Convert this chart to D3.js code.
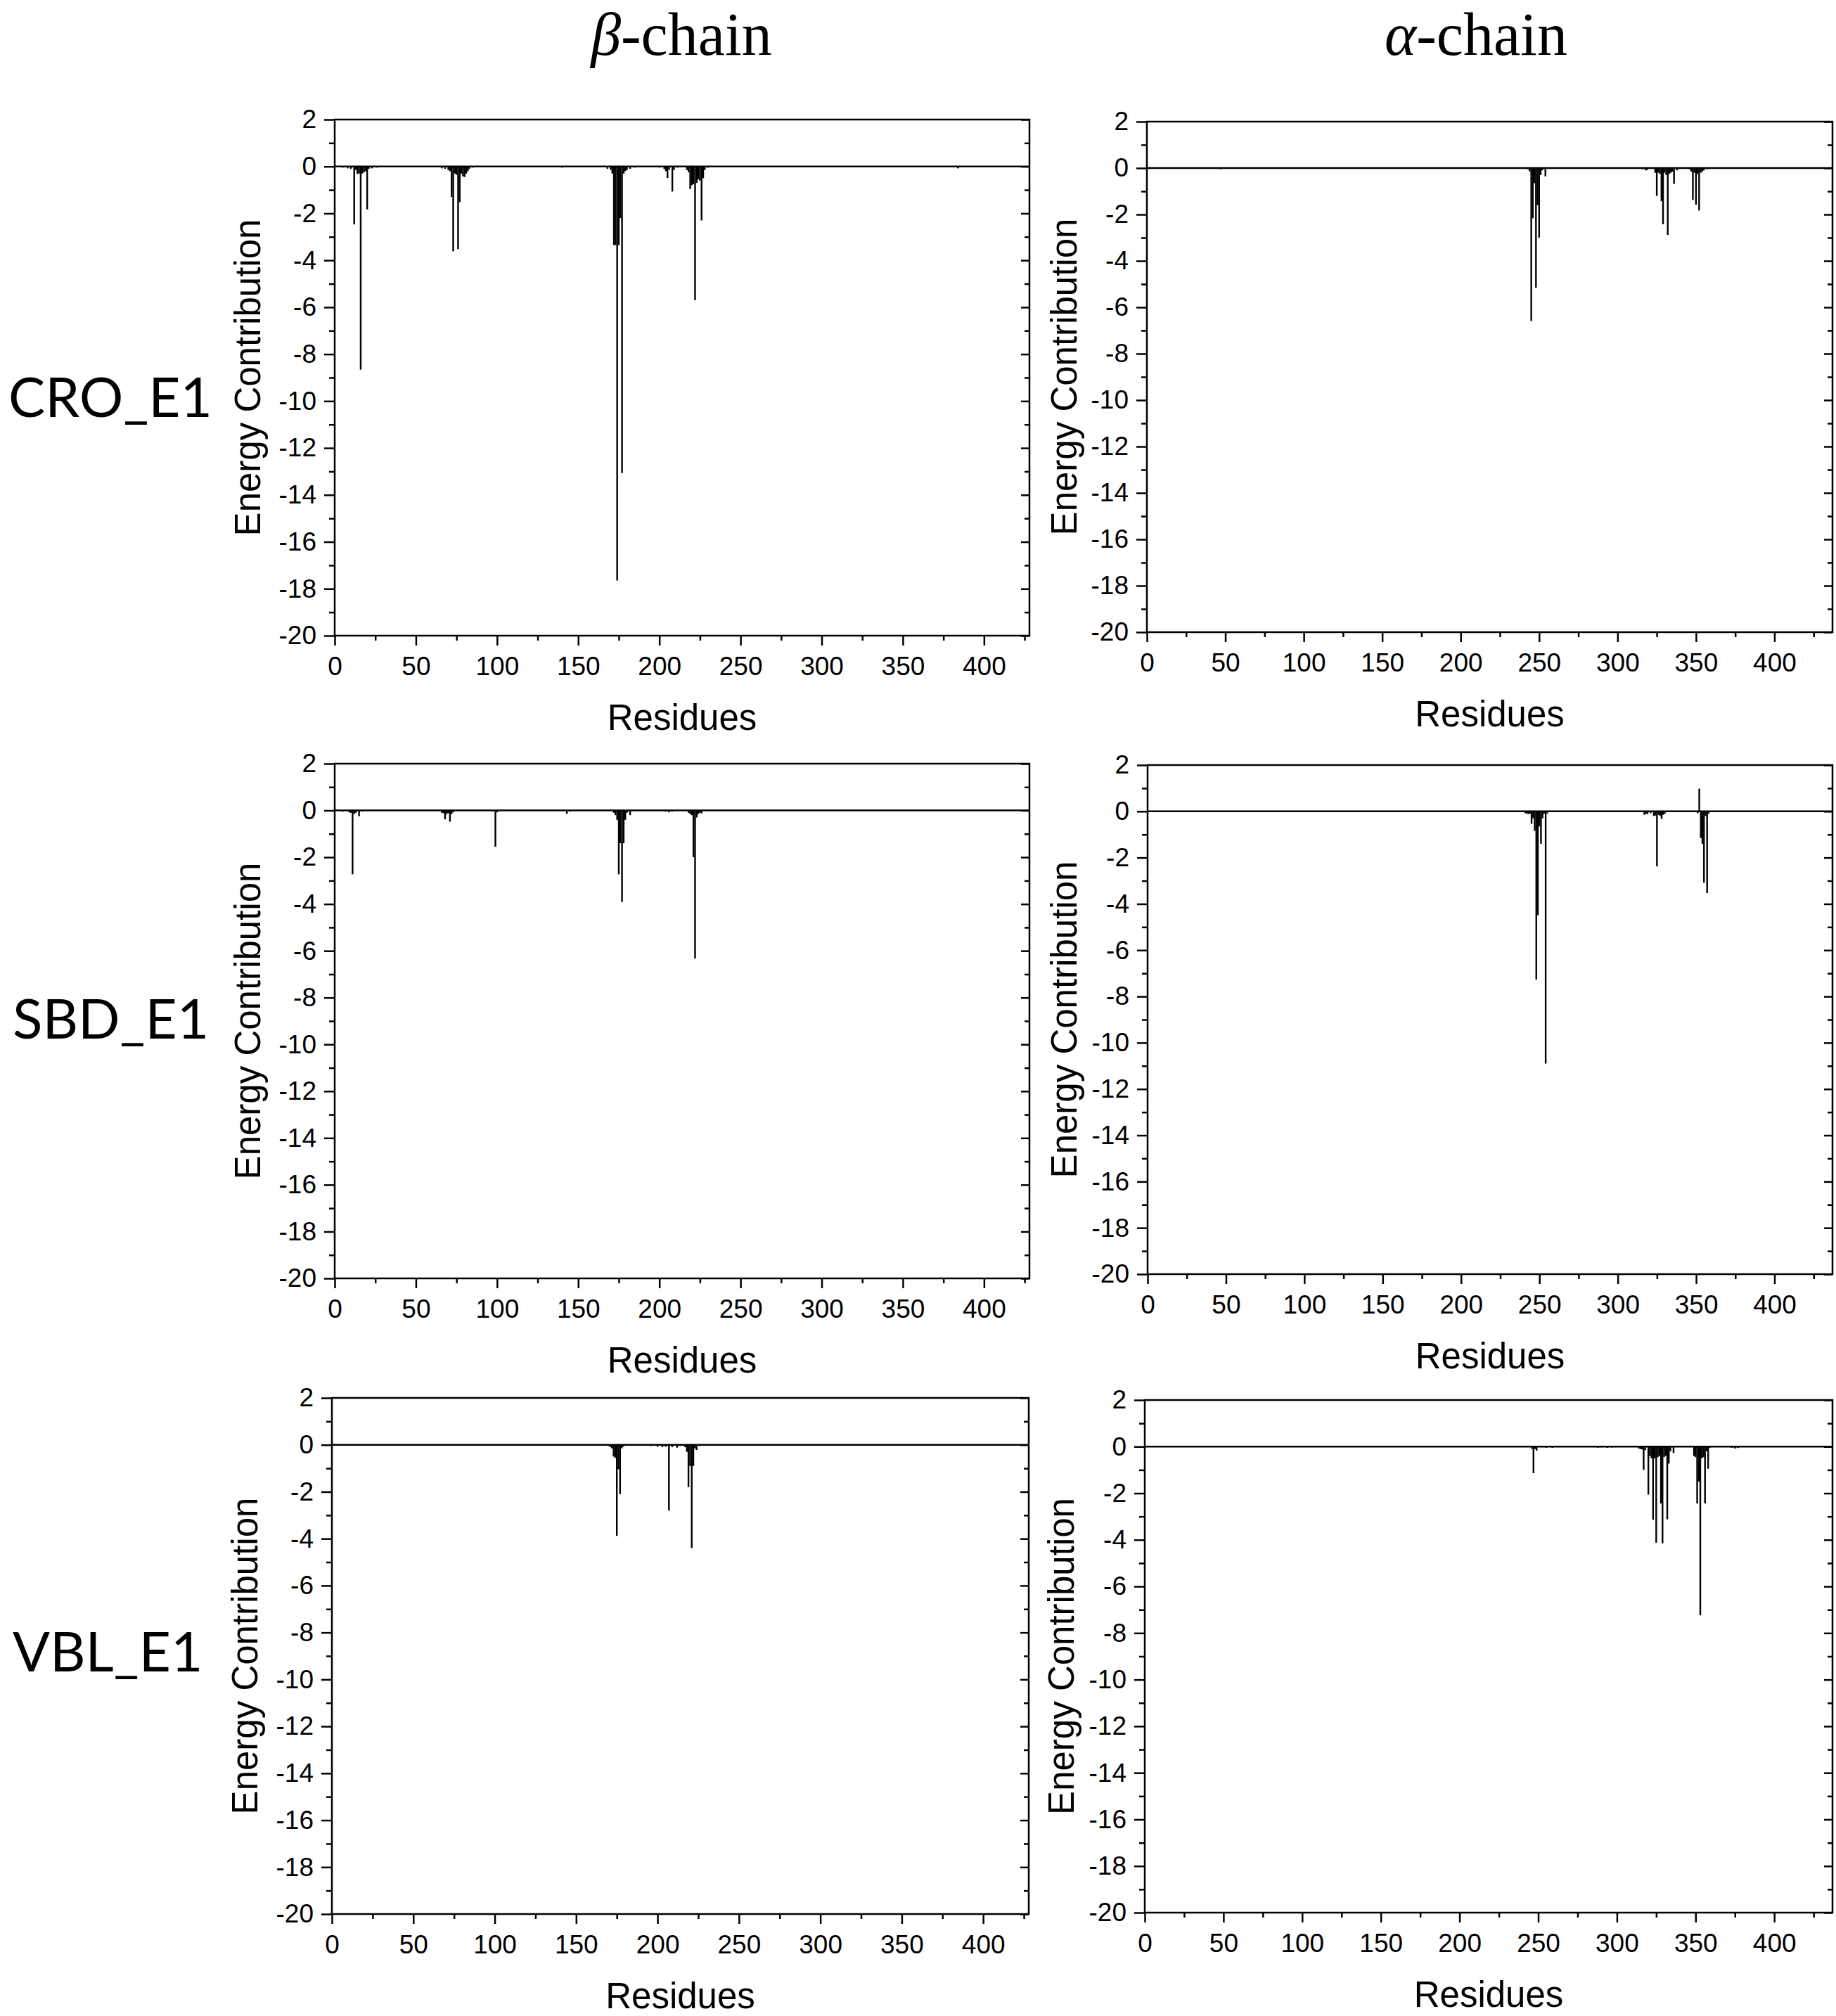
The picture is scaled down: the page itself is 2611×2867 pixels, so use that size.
<!DOCTYPE html>
<html><head><meta charset="utf-8">
<script src="https://cdn.jsdelivr.net/npm/d3@7"></script>
<style>html,body{margin:0;padding:0;background:#fff;} svg{display:block}</style>
</head><body>
<script>
// ---------------- data ----------------
const columnTitles = [{sym: "β", rest: "-chain"}, {sym: "α", rest: "-chain"}];
const rowLabels = ["CRO_E1", "SBD_E1", "VBL_E1"];
const xAxisTitle = "Residues";
const yAxisTitle = "Energy Contribution";
const yMajorTicks = [2, 0, -2, -4, -6, -8, -10, -12, -14, -16, -18, -20];
const yMinorTicks = [1, -1, -3, -5, -7, -9, -11, -13, -15, -17, -19];
const xMajorTicks = [0, 50, 100, 150, 200, 250, 300, 350, 400];
const xMinorTicks = [25, 75, 125, 175, 225, 275, 325, 375, 425];

// [residue, energy contribution]
const croBeta = [
  [5,-0.05],[8,-0.08],[10,-0.1],[12,-2.47],[13,-0.15],[14,-0.32],[15,-0.3],[16,-8.66],[17,-0.3],[18,-0.25],[19,-0.2],[20,-1.83],[21,-0.1],[23,-0.08],[26,-0.05],
  [66,-0.08],[68,-0.1],[70,-0.15],[71,-0.2],[72,-1.3],[73,-3.62],[74,-0.3],[75,-0.35],[76,-3.52],[77,-1.52],[78,-0.3],[79,-0.42],[80,-0.45],[81,-0.3],[82,-0.2],[83,-0.1],[85,-0.05],
  [100,-0.03],[140,-0.05],[150,-0.03],
  [168,-0.1],[170,-0.15],[171,-0.3],[172,-3.35],[173,-3.35],[174,-17.65],[175,-3.35],[176,-2.2],[177,-13.07],[178,-0.3],[179,-0.2],[180,-0.15],[182,-0.1],[185,-0.05],
  [200,-0.05],[203,-0.1],[204,-0.2],[205,-0.49],[206,-0.15],[208,-1.07],[209,-0.15],[211,-0.05],
  [217,-0.15],[218,-0.25],[219,-0.96],[220,-0.8],[221,-0.75],[222,-5.7],[223,-0.7],[224,-0.55],[225,-0.6],[226,-2.3],[227,-0.5],[228,-0.15],[230,-0.05],
  [384,-0.08]
];
const croAlpha = [
  [47,-0.05],
  [243,-0.05],[244,-0.15],[245,-6.59],[246,-2.16],[247,-0.65],[248,-5.16],[249,-1.6],[250,-3.0],[251,-0.3],[252,-0.1],[254,-0.36],
  [316,-0.05],[318,-0.1],[319,-0.08],[324,-0.2],[325,-1.2],[326,-0.2],[327,-0.25],[328,-1.43],[329,-2.42],[330,-0.2],[331,-0.3],[332,-2.88],[333,-0.25],[334,-0.2],[335,-0.15],[336,-0.68],[338,-0.1],
  [346,-0.05],[347,-0.15],[348,-1.37],[349,-0.2],[350,-1.58],[351,-0.25],[352,-1.83],[353,-0.2],[354,-0.15],[355,-0.1],[357,-0.05]
];
const sbdBeta = [
  [5,-0.05],[9,-0.08],[10,-0.1],[11,-2.73],[12,-0.15],[13,-0.1],[15,-0.25],[17,-0.05],
  [66,-0.1],[67,-0.12],[68,-0.38],[69,-0.15],[70,-0.12],[71,-0.48],[72,-0.15],[73,-0.08],
  [97,-0.05],[99,-1.55],[100,-0.08],
  [143,-0.15],[145,-0.05],
  [172,-0.1],[173,-0.2],[174,-0.4],[175,-2.73],[176,-1.4],[177,-3.91],[178,-1.4],[179,-0.4],[180,-0.1],[182,-0.2],
  [204,-0.05],[206,-0.08],[208,-0.05],
  [218,-0.1],[219,-0.15],[220,-0.2],[221,-2.0],[222,-6.33],[223,-0.3],[224,-0.15],[225,-0.1],[226,-0.12]
];
const sbdAlpha = [
  [241,-0.08],[242,-0.1],[243,-0.12],[244,-0.1],[245,-0.54],[246,-0.3],[247,-0.84],[248,-7.27],[249,-4.49],[250,-0.65],[251,-1.4],[252,-0.3],[253,-0.1],[254,-10.9],[255,-0.1],
  [317,-0.15],[318,-0.1],[319,-0.12],[321,-0.08],[323,-0.2],[324,-0.18],[325,-2.38],[326,-0.15],[327,-0.2],[328,-0.33],[329,-0.15],[330,-0.1],
  [351,-0.08],[352,0.98],[353,-1.15],[354,-1.4],[355,-3.09],[356,-0.2],[357,-3.53],[358,-0.1]
];
const vblBeta = [
  [170,-0.05],[171,-0.1],[172,-0.15],[173,-0.5],[174,-0.55],[175,-3.88],[176,-1.04],[177,-2.1],[178,-0.15],[179,-0.08],
  [196,-0.05],[200,-0.08],[203,-0.1],[205,-0.08],[207,-2.8],[209,-0.1],[212,-0.12],[214,-0.05],
  [217,-0.1],[218,-0.3],[219,-1.8],[220,-0.9],[221,-4.4],[222,-0.9],[223,-0.15],[224,-0.22],[226,-0.05]
];
const vblAlpha = [
  [246,-0.1],[247,-1.14],[248,-0.1],[249,-0.17],[252,-0.03],[255,-0.05],[259,-0.05],
  [288,-0.05],[290,-0.03],[294,-0.05],[297,-0.04],
  [314,-0.08],[315,-0.1],[316,-0.12],[317,-1.0],[318,-0.15],[320,-2.06],[321,-0.4],[322,-0.5],[323,-3.14],[324,-0.5],[325,-4.12],[326,-0.45],[327,-0.4],[328,-2.44],[329,-4.15],[330,-0.45],[331,-0.4],[332,-3.12],[333,-0.73],[334,-0.2],[336,-0.28],
  [349,-0.4],[350,-0.45],[351,-2.44],[352,-1.5],[353,-7.24],[354,-0.5],[355,-0.45],[356,-2.44],[357,-0.2],[358,-0.95],[359,-0.05],
  [373,-0.05],[375,-0.08],[377,-0.06]
];

// ---------------- layout ----------------
const W = 2611, H = 2867;
const panels = [
  {data: croBeta,  x0: 476,  x1: 1464, y0: 170,  y1: 904,  xMax: 428, labX: 370},
  {data: croAlpha, x0: 1631, x1: 2606, y0: 173,  y1: 899,  xMax: 437, labX: 1531},
  {data: sbdBeta,  x0: 476,  x1: 1464, y0: 1086, y1: 1818, xMax: 428, labX: 370},
  {data: sbdAlpha, x0: 1632, x1: 2606, y0: 1088, y1: 1812, xMax: 437, labX: 1531},
  {data: vblBeta,  x0: 472,  x1: 1463, y0: 1988, y1: 2722, xMax: 428, labX: 366},
  {data: vblAlpha, x0: 1628, x1: 2606, y0: 1991, y1: 2720, xMax: 437, labX: 1527}
];
const titlePos = [{x: 969, y: 78}, {x: 2099, y: 78}];
const rowPos = [{x: 12, y: 593}, {x: 18, y: 1477}, {x: 18, y: 2377}];

const svg = d3.select("body").append("svg")
  .attr("width", W).attr("height", H).attr("viewBox", `0 0 ${W} ${H}`);
svg.append("rect").attr("width", W).attr("height", H).attr("fill", "#fff");

const SANS = "'Liberation Sans', Arial, sans-serif";
const SW = 2.5;

// column titles
columnTitles.forEach((t, i) => {
  const tx = svg.append("text")
    .attr("x", titlePos[i].x).attr("y", titlePos[i].y)
    .attr("text-anchor", "middle")
    .attr("font-family", "'Liberation Serif', 'Times New Roman', serif")
    .attr("font-size", 86).attr("fill", "#000");
  tx.append("tspan").attr("font-style", "italic").text(t.sym);
  tx.append("tspan").text(t.rest);
});

// row labels
rowLabels.forEach((lab, i) => {
  svg.append("text").attr("class", "rowlab")
    .attr("x", rowPos[i].x).attr("y", rowPos[i].y)
    .attr("font-family", "Lato, 'Open Sans', sans-serif")
    .attr("font-size", 80).attr("fill", "#000")
    .text(lab);
});
// size row labels so CRO_E1 spans ~290px like the reference
{
  const first = svg.select(".rowlab").node();
  const w = first.getComputedTextLength();
  const fs = 80 * 290 / w;
  svg.selectAll(".rowlab").attr("font-size", fs);
}

panels.forEach(p => {
  const x = d3.scaleLinear().domain([0, p.xMax]).range([p.x0, p.x1]);
  const y = d3.scaleLinear().domain([-20, 2]).range([p.y1, p.y0]);
  const g = svg.append("g");

  // bars
  g.append("g").selectAll("rect").data(p.data).join("rect")
    .attr("x", d => x(d[0]) - 1.2)
    .attr("width", 2.4)
    .attr("y", d => Math.min(y(d[1]), y(0)))
    .attr("height", d => Math.max(1, Math.abs(y(d[1]) - y(0))))
    .attr("fill", "#000");

  // zero line
  g.append("line")
    .attr("x1", x(0)).attr("x2", x(p.xMax))
    .attr("y1", y(0)).attr("y2", y(0))
    .attr("stroke", "#000").attr("stroke-width", SW);

  // left axis major
  const yl = g.append("g").attr("transform", `translate(${p.x0},0)`)
    .call(d3.axisLeft(y).tickValues(yMajorTicks).tickSize(15).tickPadding(11)
      .tickFormat(d => d < 0 ? "-" + Math.abs(d) : String(d)));
  // left axis minor
  const ylm = g.append("g").attr("transform", `translate(${p.x0},0)`)
    .call(d3.axisLeft(y).tickValues(yMinorTicks).tickSize(8).tickFormat(""));
  // right inward ticks
  const yr = g.append("g").attr("transform", `translate(${p.x1},0)`)
    .call(d3.axisLeft(y).tickValues(yMajorTicks).tickSize(12).tickFormat(""));
  const yrm = g.append("g").attr("transform", `translate(${p.x1},0)`)
    .call(d3.axisLeft(y).tickValues(yMinorTicks).tickSize(7).tickFormat(""));
  // bottom axis
  const xb = g.append("g").attr("transform", `translate(0,${p.y1})`)
    .call(d3.axisBottom(x).tickValues(xMajorTicks).tickSize(14).tickPadding(16));
  const xbm = g.append("g").attr("transform", `translate(0,${p.y1})`)
    .call(d3.axisBottom(x).tickValues(xMinorTicks.filter(v => v <= p.xMax)).tickSize(7).tickFormat(""));

  [yl, ylm, yr, yrm, xb, xbm].forEach(a => {
    a.select(".domain").remove();
    a.selectAll(".tick line").attr("stroke", "#000").attr("stroke-width", SW);
    a.selectAll(".tick text").attr("font-family", SANS).attr("font-size", 37).attr("fill", "#000");
  });

  // frame
  g.append("rect")
    .attr("x", p.x0).attr("y", p.y0)
    .attr("width", p.x1 - p.x0).attr("height", p.y1 - p.y0)
    .attr("fill", "none").attr("stroke", "#000").attr("stroke-width", SW);

  // axis titles
  g.append("text")
    .attr("x", (p.x0 + p.x1) / 2).attr("y", p.y1 + 134)
    .attr("text-anchor", "middle")
    .attr("font-family", SANS).attr("font-size", 51).attr("fill", "#000")
    .text(xAxisTitle);
  g.append("text")
    .attr("transform", `translate(${p.labX},${(p.y0 + p.y1) / 2}) rotate(-90)`)
    .attr("text-anchor", "middle")
    .attr("font-family", SANS).attr("font-size", 51).attr("fill", "#000")
    .text(yAxisTitle);
});
</script>
</body></html>
